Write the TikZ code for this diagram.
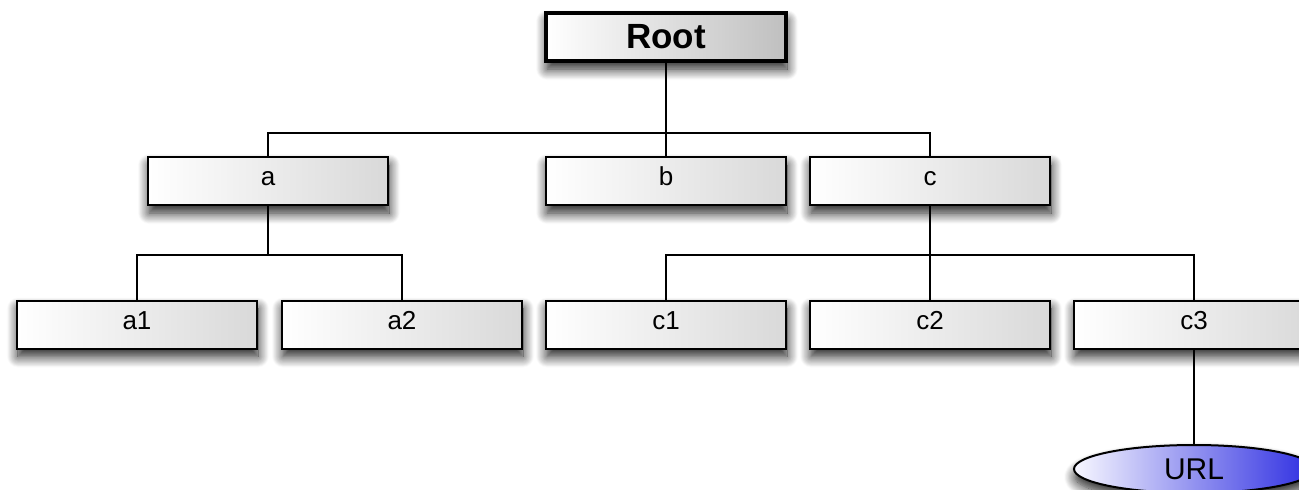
\documentclass[tikz,border=0pt]{standalone}
\usepackage{fontspec}
\setmainfont{Liberation Sans}
\usetikzlibrary{shapes.geometric,shadows.blur}
\tikzset{
  softshadow/.style={blur shadow={shadow xshift=1pt, shadow yshift=-8pt, shadow blur radius=11pt, shadow opacity=90, shadow blur steps=14}},
  box/.style={draw=black, line width=2pt, rectangle, minimum width=240pt, minimum height=48pt,
    inner sep=0pt, left color=white, right color=black!15,
    font=\fontsize{26}{30}\selectfont, text height=12pt, text depth=3pt, softshadow},
  rootbox/.style={box, line width=3.6pt, minimum width=240pt, minimum height=48pt,
    right color=black!25, font=\fontsize{35}{40}\selectfont\bfseries, text height=26pt, text depth=4pt},
  urlnode/.style={draw=black, line width=2pt, ellipse, minimum width=240pt, minimum height=48pt,
    inner sep=0pt, left color=blue!3, right color=urlblue,
    font=\fontsize{30}{34}\selectfont, text height=21pt, text depth=0pt, softshadow},
  link/.style={draw=black, line width=2pt}
}
\definecolor{urlblue}{RGB}{45,45,225}
\begin{document}
\begin{tikzpicture}[x=1pt,y=-1pt]
\useasboundingbox (0,0) rectangle (1299,490);
\node[rootbox] (root) at (666,37) {Root};
\node[box] (a) at (268,181) {a};
\node[box] (b) at (666,181) {b};
\node[box] (c) at (930,181) {c};
\node[box] (a1) at (137,324.5) {a1};
\node[box] (a2) at (402,324.5) {a2};
\node[box] (c1) at (666,324.5) {c1};
\node[box] (c2) at (930,324.5) {c2};
\node[box] (c3) at (1194,324.5) {c3};
\node[urlnode] (url) at (1194,469) {URL};
\coordinate (bus1) at (666,133);
\coordinate (bus2) at (268,255);
\coordinate (bus3) at (930,255);
\draw[link] (root.south) -- (bus1);
\draw[link] (a.north) |- (bus1) -| (c.north);
\draw[link] (bus1) -- (b.north);
\draw[link] (a.south) -- (bus2);
\draw[link] (a1.north) |- (bus2) -| (a2.north);
\draw[link] (c.south) -- (c2.north);
\draw[link] (c1.north) |- (bus3) -| (c3.north);
\draw[link] (c3.south) -- (url.north);
\end{tikzpicture}
\end{document}
